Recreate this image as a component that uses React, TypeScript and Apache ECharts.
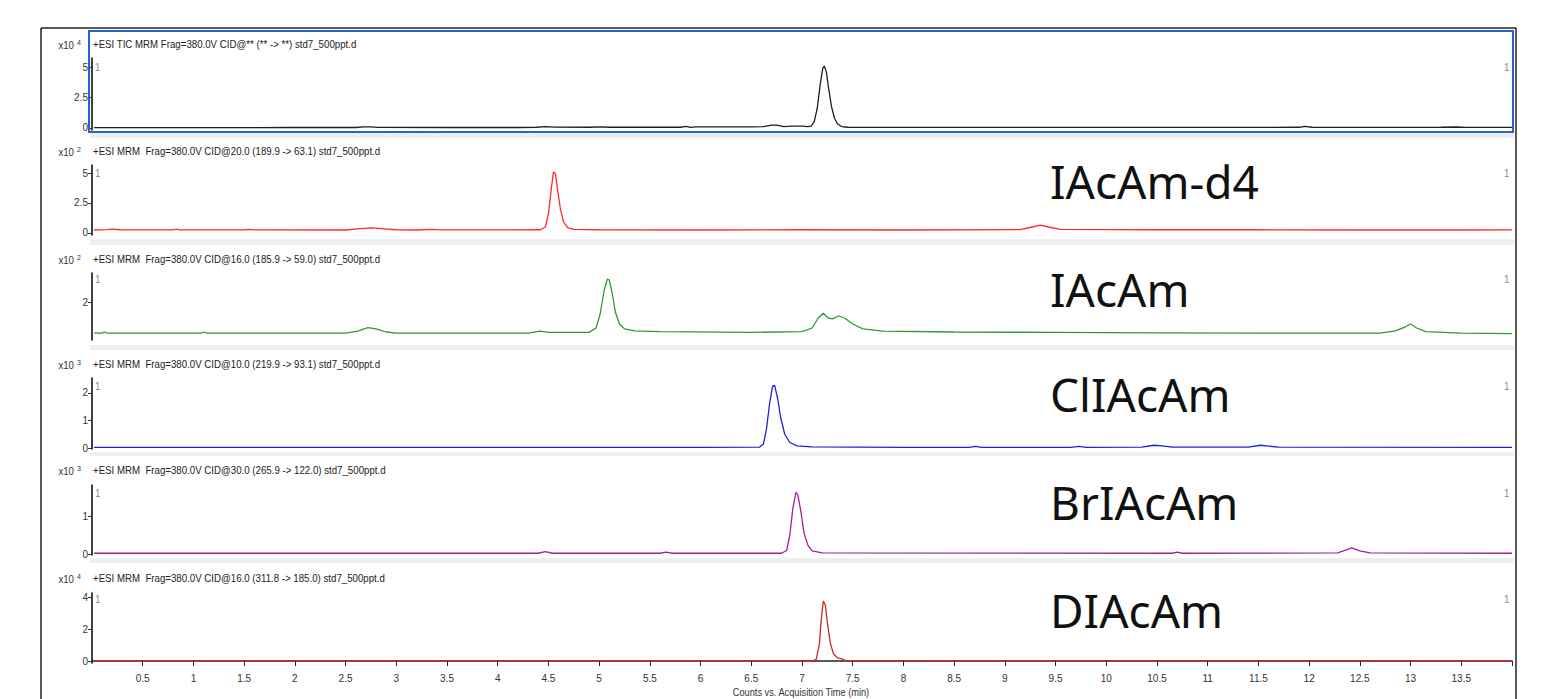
import React, { useEffect, useRef } from "react";
import * as echarts from "echarts";

// ---- data (time in min, intensity in axis units) ----
const ticTrace: [number, number][] = [
  [0.02, 0.03], [0.5, 0.03], [1.0, 0.03], [1.5, 0.03], [2.0, 0.04], [2.6, 0.04], [2.68, 0.09], [2.75, 0.1], [2.82, 0.05],
  [3.5, 0.04], [4.2, 0.04], [4.38, 0.06], [4.47, 0.11], [4.56, 0.07], [4.9, 0.06], [5.03, 0.1], [5.1, 0.06],
  [5.8, 0.06], [5.86, 0.13], [5.9, 0.05], [5.95, 0.1], [6.5, 0.09], [6.62, 0.12], [6.7, 0.24], [6.75, 0.23], [6.82, 0.12],
  [6.9, 0.15], [7.0, 0.15], [7.06, 0.12], [7.09, 0.15], [7.12, 0.5], [7.15, 1.6], [7.18, 3.6], [7.205, 4.9], [7.22, 5.08],
  [7.24, 4.6], [7.26, 3.4], [7.29, 1.8], [7.32, 0.8], [7.35, 0.35], [7.39, 0.12], [7.45, 0.06], [8.5, 0.05], [9.5, 0.05],
  [10.5, 0.05], [11.5, 0.05], [11.9, 0.06], [11.96, 0.14], [12.03, 0.06], [12.8, 0.05], [13.3, 0.06], [13.45, 0.08],
  [13.55, 0.05], [14, 0.05],
];
const iacamD4Trace: [number, number][] = [
  [0.02, 0.25], [0.15, 0.28], [0.2, 0.33], [0.28, 0.27], [0.8, 0.26], [0.83, 0.32], [0.86, 0.26], [1.5, 0.26], [1.55, 0.3],
  [1.6, 0.26], [2.5, 0.25], [2.62, 0.35], [2.75, 0.43], [2.88, 0.35], [3.0, 0.27], [3.2, 0.25], [3.35, 0.3], [3.45, 0.26],
  [4.42, 0.27], [4.47, 0.5], [4.5, 1.6], [4.53, 3.8], [4.55, 5.1], [4.57, 4.9], [4.59, 3.6], [4.62, 1.9], [4.65, 0.9],
  [4.69, 0.45], [4.75, 0.3], [5.0, 0.27], [6.0, 0.25], [7.0, 0.27], [8.0, 0.25], [9.15, 0.28], [9.27, 0.5], [9.35, 0.65],
  [9.43, 0.5], [9.55, 0.3], [10.5, 0.27], [11.5, 0.27], [12.5, 0.25], [13.5, 0.25], [14, 0.26],
];
const iacamTrace: [number, number][] = [
  [0.02, 1.22], [0.1, 1.22], [0.12, 1.25], [0.15, 1.22], [1.08, 1.22], [1.1, 1.25], [1.13, 1.22], [2.5, 1.22], [2.62, 1.27],
  [2.72, 1.36], [2.8, 1.33], [2.9, 1.25], [3.0, 1.22], [4.3, 1.22], [4.42, 1.27], [4.5, 1.24], [4.9, 1.24], [4.97, 1.35],
  [5.01, 1.7], [5.05, 2.3], [5.08, 2.57], [5.1, 2.55], [5.13, 2.2], [5.16, 1.75], [5.2, 1.45], [5.25, 1.33], [5.35, 1.28],
  [5.6, 1.26], [6.5, 1.24], [7.0, 1.26], [7.1, 1.35], [7.16, 1.6], [7.21, 1.72], [7.26, 1.6], [7.3, 1.58], [7.36, 1.65],
  [7.42, 1.6], [7.5, 1.45], [7.6, 1.33], [7.8, 1.27], [8.5, 1.25], [9.5, 1.24], [10.5, 1.23], [11.5, 1.22], [12.7, 1.22],
  [12.85, 1.28], [12.95, 1.38], [13.0, 1.45], [13.06, 1.35], [13.15, 1.26], [13.5, 1.22], [14, 1.21],
];
const cliacamTrace: [number, number][] = [
  [0.02, 0.02], [3, 0.02], [6, 0.02], [6.58, 0.03], [6.62, 0.15], [6.65, 0.7], [6.68, 1.6], [6.71, 2.25], [6.73, 2.28],
  [6.76, 1.8], [6.79, 1.1], [6.83, 0.5], [6.88, 0.2], [6.95, 0.08], [7.1, 0.04], [8, 0.02], [8.65, 0.02], [8.71, 0.06],
  [8.77, 0.02], [9.65, 0.02], [9.73, 0.06], [9.8, 0.02], [10.35, 0.03], [10.47, 0.1], [10.55, 0.08], [10.65, 0.03],
  [11.4, 0.03], [11.52, 0.1], [11.6, 0.07], [11.7, 0.03], [14, 0.02],
];
const briacamTrace: [number, number][] = [
  [0.02, 0.02], [4.4, 0.02], [4.47, 0.06], [4.54, 0.02], [5.6, 0.02], [5.66, 0.05], [5.72, 0.02], [6.8, 0.02], [6.85, 0.1],
  [6.88, 0.5], [6.91, 1.2], [6.94, 1.62], [6.96, 1.55], [6.99, 1.1], [7.02, 0.55], [7.06, 0.22], [7.1, 0.08], [7.2, 0.03],
  [10.65, 0.02], [10.7, 0.05], [10.75, 0.02], [12.28, 0.03], [12.36, 0.1], [12.42, 0.16], [12.5, 0.08], [12.6, 0.03],
  [14, 0.02],
];
const diacamTrace: [number, number][] = [
  [0.02, 0], [7.1, 0], [7.14, 0.1], [7.17, 1.0], [7.19, 2.6], [7.21, 3.75], [7.23, 3.5], [7.25, 2.4], [7.28, 1.1],
  [7.31, 0.45], [7.35, 0.2], [7.4, 0.12], [7.43, 0.02], [14, 0],
];

const traces = [ticTrace, iacamD4Trace, iacamTrace, cliacamTrace, briacamTrace, diacamTrace];
const headers = [
  "+ESI TIC MRM Frag=380.0V CID@** (** -> **) std7_500ppt.d",
  "+ESI MRM  Frag=380.0V CID@20.0 (189.9 -> 63.1) std7_500ppt.d",
  "+ESI MRM  Frag=380.0V CID@16.0 (185.9 -> 59.0) std7_500ppt.d",
  "+ESI MRM  Frag=380.0V CID@10.0 (219.9 -> 93.1) std7_500ppt.d",
  "+ESI MRM  Frag=380.0V CID@30.0 (265.9 -> 122.0) std7_500ppt.d",
  "+ESI MRM  Frag=380.0V CID@16.0 (311.8 -> 185.0) std7_500ppt.d",
];
const exponents = ["4", "2", "2", "3", "3", "4"];
const compoundLabels = ["", "IAcAm-d4", "IAcAm", "ClIAcAm", "BrIAcAm", "DIAcAm"];
const yTickValues = [[0, 2.5, 5], [0, 2.5, 5], [2], [0, 1, 2], [0, 1], [0, 2, 4]];
const xTickLabels = [0.5, 1, 1.5, 2, 2.5, 3, 3.5, 4, 4.5, 5, 5.5, 6, 6.5, 7, 7.5, 8, 8.5, 9, 9.5, 10, 10.5, 11, 11.5, 12, 12.5, 13, 13.5];
const xTickMarks = [...xTickLabels, 14];
const xTitle = "Counts vs. Acquisition Time (min)";

// ---- layout / style ----
const colors = ["#1e1e1e", "#ff2a2a", "#2e9a2e", "#2020e0", "#a0209a", "#c42a2a"];
const panels = [
  { top: 58, bottom: 130, min: -0.164, max: 5.738, header: 44, one: 67 },
  { top: 165, bottom: 235, min: -0.167, max: 5.667, header: 151, one: 173 },
  { top: 273, bottom: 340, min: 1.05, max: 2.725, header: 259, one: 279 },
  { top: 378, bottom: 449, min: -0.036, max: 2.545, header: 364, one: 386 },
  { top: 485, bottom: 555, min: -0.026, max: 1.816, header: 470, one: 493 },
  { top: 593, bottom: 663, min: -0.125, max: 4.25, header: 578, one: 599 },
];
const labelCenters = [0, 181, 289, 394, 502, 610];
const gaps = [[133, 138], [239, 245], [345, 350], [452, 456], [558, 563]];
const NARROW = "'Liberation Sans Narrow', 'Arial Narrow', 'Liberation Sans', sans-serif";
const SX = 0.88;
const W = 1567;
const H = 699;
const GL = 92;
const GR = 1512;

export default function App() {
  const ref = useRef<HTMLDivElement>(null);
  useEffect(() => {
    if (!ref.current) return;
    const chart = echarts.init(ref.current, undefined, { renderer: "svg" });
    const grids = panels.map((p) => ({ left: GL, width: GR - GL, top: p.top, height: p.bottom - p.top, containLabel: false }));
    const xAxes = panels.map((p, i) => ({
      type: "value",
      gridIndex: i,
      min: 0,
      max: 14,
      show: i === 5,
      offset: i === 5 ? 6 : 0,
      axisLine: { show: true, lineStyle: { color: "#222", width: 1.5 } },
      axisTick: { show: true, length: 5, lineStyle: { color: "#222" }, customValues: xTickMarks },
      axisLabel: {
        show: true,
        customValues: xTickLabels,
        fontSize: 10,
        color: "#333",
        fontFamily: NARROW,
        margin: 4,
        formatter: (v: number) => String(v),
      },
      splitLine: { show: false },
    }));
    const yAxes = panels.map((p, i) => ({
      type: "value",
      gridIndex: i,
      min: p.min,
      max: p.max,
      offset: 2,
      axisLine: { show: true, lineStyle: { color: "#111", width: 1.6 } },
      axisTick: { show: true, length: 4, lineStyle: { color: "#333" }, customValues: yTickValues[i] },
      axisLabel: {
        show: true,
        customValues: yTickValues[i],
        fontSize: 10,
        color: "#333",
        fontFamily: NARROW,
        margin: 2,
        formatter: (v: number) => String(v),
      },
      splitLine: { show: false },
    }));
    const series = traces.map((d, i) => ({
      type: "line",
      xAxisIndex: i,
      yAxisIndex: i,
      data: d,
      showSymbol: false,
      symbol: "none",
      lineStyle: { color: colors[i], width: 1.3 },
      z: 5,
    }));

    const graphic: any[] = [];
    gaps.forEach(([a, b]) => {
      graphic.push({ type: "rect", shape: { x: 90, y: a, width: GR - 90 + 2, height: b - a }, style: { fill: "#efefef" }, silent: true, z: 0 });
    });
    graphic.push({ type: "line", shape: { x1: 41, y1: 28, x2: 1516, y2: 28 }, style: { stroke: "#222", lineWidth: 1.5 }, z: 10 });
    graphic.push({ type: "line", shape: { x1: 41, y1: 28, x2: 41, y2: H }, style: { stroke: "#222", lineWidth: 1.5 }, z: 10 });
    graphic.push({ type: "line", shape: { x1: 1516, y1: 28, x2: 1516, y2: H }, style: { stroke: "#222", lineWidth: 1.5 }, z: 10 });
    graphic.push({ type: "rect", shape: { x: 89, y: 31, width: 1424, height: 101 }, style: { fill: "none", stroke: "#2a62c9", lineWidth: 2 }, z: 10 });

    panels.forEach((p, i) => {
      graphic.push({ type: "text", x: 93, y: p.header, scaleX: SX, style: { text: headers[i], fontSize: 11, fontFamily: NARROW, fill: "#222", verticalAlign: "middle", align: "left" }, z: 10 });
      graphic.push({ type: "text", x: 74, y: p.header + 1, scaleX: SX, style: { text: "x10", fontSize: 11, fontFamily: NARROW, fill: "#333", verticalAlign: "middle", align: "right" }, z: 10 });
      graphic.push({ type: "text", x: 77, y: p.header - 2, scaleX: SX, style: { text: exponents[i], fontSize: 8, fontFamily: NARROW, fill: "#333", verticalAlign: "middle", align: "left" }, z: 10 });
      graphic.push({ type: "text", x: 95, y: p.one, scaleX: SX, style: { text: "1", fontSize: 11, fontFamily: NARROW, fill: "#9a7f9a", verticalAlign: "middle", align: "left" }, z: 10 });
      graphic.push({ type: "text", x: 1504, y: p.one, scaleX: SX, style: { text: "1", fontSize: 11, fontFamily: NARROW, fill: "#9a7f9a", verticalAlign: "middle", align: "left" }, z: 10 });
      if (compoundLabels[i]) {
        graphic.push({ type: "text", x: 1050, y: labelCenters[i], style: { text: compoundLabels[i], fontSize: 46, fontFamily: "'Noto Sans', 'Open Sans', sans-serif", fill: "#111", verticalAlign: "middle", align: "left" }, z: 10 });
      }
    });
    graphic.push({ type: "text", x: 801, y: 692, scaleX: SX, style: { text: xTitle, fontSize: 10.5, fontFamily: NARROW, fill: "#333", verticalAlign: "middle", align: "center" }, z: 10 });

    chart.setOption({
      animation: false,
      backgroundColor: "#ffffff",
      grid: grids,
      xAxis: xAxes,
      yAxis: yAxes,
      series,
      graphic,
    } as any);
    return () => chart.dispose();
  }, []);
  return <div ref={ref} style={{ position: "fixed", left: 0, top: 0, width: W, height: H }} />;
}
